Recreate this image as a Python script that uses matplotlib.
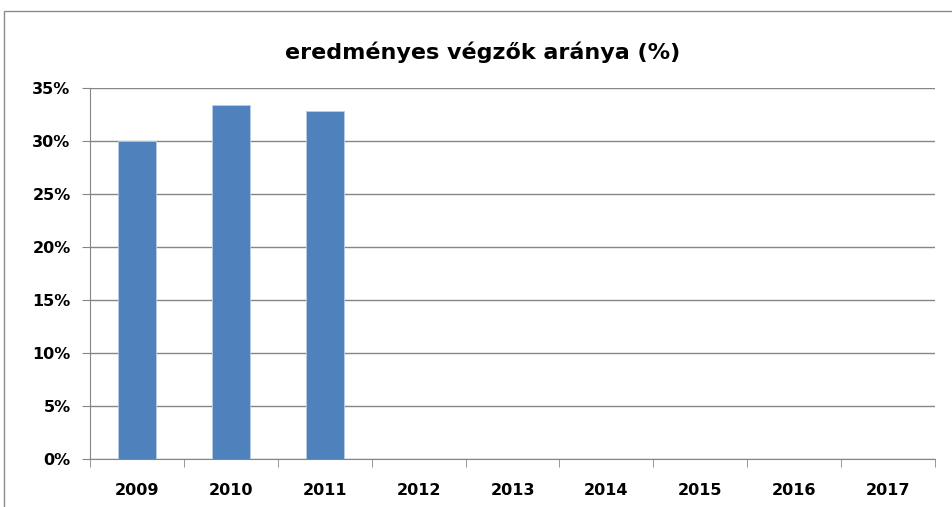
import matplotlib
matplotlib.use("Agg")
import matplotlib.pyplot as plt
from matplotlib.patches import Rectangle
from matplotlib.ticker import FuncFormatter

years = ["2009", "2010", "2011", "2012", "2013", "2014", "2015", "2016", "2017"]
values = [30.0, 33.4, 32.8, None, None, None, None, None, None]
title = "eredményes végzők aránya (%)"

plt.rcParams['font.family'] = ['DejaVu Sans']

fig = plt.figure(figsize=(9.52, 5.07), dpi=100)
fig.patches.append(Rectangle((4/952, -0.1), 1.2, 1 - 11/507 + 0.1, transform=fig.transFigure,
                             fill=False, edgecolor='#8c8c8c', linewidth=1.0))
ax = fig.add_axes([90/952, 1 - 459/507, 845/952, (459 - 88)/507])

xs = list(range(len(years)))
bx = [x for x, v in zip(xs, values) if v is not None]
bv = [v for v in values if v is not None]
ax.bar(bx, bv, width=0.4, color='#4F81BD', edgecolor='#b9cde5', linewidth=0.6, zorder=3)

ax.set_xlim(-0.5, len(years) - 0.5)
ax.set_ylim(0, 35)
ax.set_yticks(range(0, 36, 5))
ax.yaxis.set_major_formatter(FuncFormatter(lambda v, p: f"{int(v)}%"))
ax.set_xticks(xs)
ax.set_xticklabels(years)
ax.set_xticks([x - 0.5 for x in range(len(years) + 1)], minor=True)
ax.tick_params(axis='x', which='major', length=0, pad=17, labelsize=11.5)
ax.tick_params(axis='x', which='minor', length=6, color='#868686', direction='out')
ax.tick_params(axis='y', length=6, color='#868686', direction='out', pad=8, labelsize=11.5)
for lab in ax.get_xticklabels() + ax.get_yticklabels():
    lab.set_fontweight('bold')

ax.grid(axis='y', color='#868686', linewidth=1.0, zorder=0)
for s in ['top', 'right']:
    ax.spines[s].set_visible(False)
ax.spines['left'].set_color('#868686')
ax.spines['bottom'].set_color('#868686')

fig.text(483/952, 1 - 52/507, title, ha='center', va='center',
         fontsize=16, fontweight='bold')

fig.savefig("out.png", dpi=100)
